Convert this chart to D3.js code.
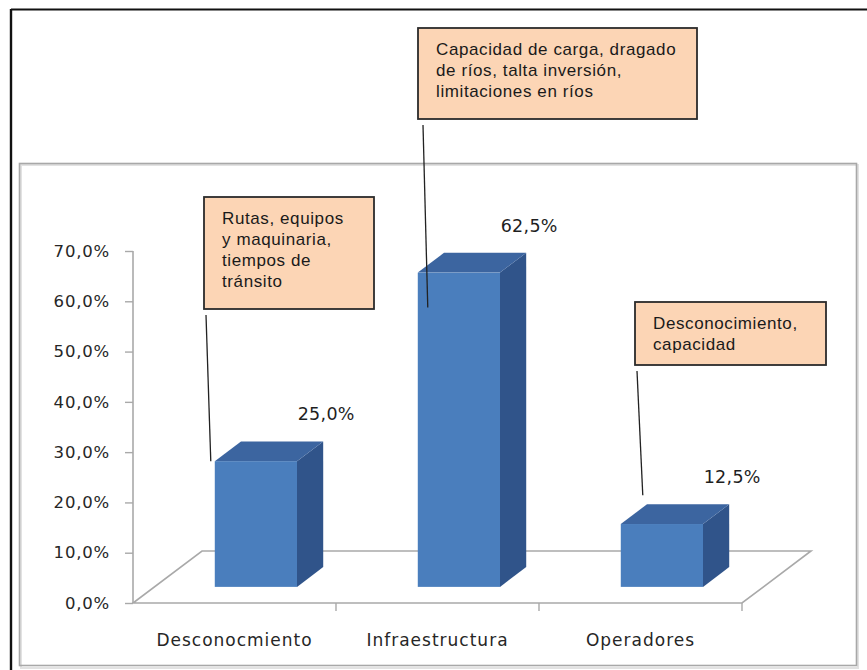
<!DOCTYPE html>
<html>
<head>
<meta charset="utf-8">
<script src="https://cdn.jsdelivr.net/npm/d3@7"></script>
<style>
  html, body { margin: 0; padding: 0; background: #fff; }
  svg { display: block; }
</style>
</head>
<body>
<svg id="chart" width="867" height="670"></svg>
<script>
// Categories, values and their printed labels
const categories = ["Desconocmiento", "Infraestructura", "Operadores"];
const values = [25.0, 62.5, 12.5];
const valueLabels = ["25,0%", "62,5%", "12,5%"];
const yTicks = [0, 10, 20, 30, 40, 50, 60, 70];

// Callout notes, one per category (lines of text)
const notes = [
  ["Rutas, equipos", "y maquinaria,", "tiempos de", "tránsito"],
  ["Capacidad de carga, dragado", "de ríos, talta inversión,", "limitaciones en ríos"],
  ["Desconocimiento,", "capacidad"]
];

const svg = d3.select("#chart");
const locale = d3.formatLocale({ decimal: ",", thousands: ".", grouping: [3], currency: ["", ""] });
const fmt = locale.format(".1f");

// Frame: black outer border and grey plot-area box
svg.append("line").attr("x1", 11).attr("y1", 9.5).attr("x2", 867).attr("y2", 9.5)
  .attr("stroke", "#111").attr("stroke-width", 2.2);
svg.append("line").attr("x1", 11).attr("y1", 9).attr("x2", 11).attr("y2", 670)
  .attr("stroke", "#111").attr("stroke-width", 2.4);
svg.append("rect").attr("x", 21).attr("y", 165).attr("width", 837).attr("height", 503)
  .attr("fill", "none").attr("stroke", "#e2e2e2").attr("stroke-width", 2);
svg.append("rect").attr("x", 19.5).attr("y", 163.5).attr("width", 837).attr("height", 502)
  .attr("fill", "none").attr("stroke", "#a8a8a8").attr("stroke-width", 1.6);

// Scales: front edge of the floor carries the category axis
const x = d3.scaleBand().domain(categories).range([133, 742]).paddingInner(0).paddingOuter(0);
const y = d3.scaleLinear().domain([0, 70]).range([603, 251]);

// Oblique depth of the floor, and where the bars sit inside it
const depth = { dx: 69, dy: -52 };
const barFront = 0.31, barBack = 0.69;
const barWidthRatio = 0.405;

const gridColor = "#a9a9a9";
const labelFont = "'DejaVu Sans', Verdana, sans-serif";

// Floor outline
const x0 = x.range()[0], x1 = x.range()[1], y0 = y(0);
const floorPts = [[x0, y0], [x1, y0], [x1 + depth.dx, y0 + depth.dy], [x0 + depth.dx, y0 + depth.dy]];
svg.append("path")
  .attr("d", d3.line()(floorPts) + "Z")
  .attr("fill", "#fff").attr("stroke", gridColor).attr("stroke-width", 1.6);

// Value axis
const yAxisG = svg.append("g").attr("transform", `translate(${x0},0)`);
yAxisG.call(d3.axisLeft(y).tickValues(yTicks).tickSize(8).tickPadding(15)
  .tickFormat(d => fmt(d) + "%"));
yAxisG.select(".domain").attr("stroke", gridColor).attr("stroke-width", 1.6)
  .attr("d", `M0,${y(70)}V${y(0)}`);
yAxisG.selectAll(".tick line").attr("stroke", gridColor).attr("stroke-width", 1.4);
yAxisG.selectAll(".tick text")
  .attr("fill", "#262626")
  .style("font-family", labelFont)
  .style("font-size", "16.5px")
  .style("letter-spacing", "0.8px");

// Category axis along the front floor edge
const xAxisG = svg.append("g").attr("transform", `translate(0,${y0})`);
xAxisG.call(d3.axisBottom(x).tickSize(0).tickPadding(31));
xAxisG.select(".domain").remove();
xAxisG.selectAll(".tick text")
  .attr("fill", "#262626")
  .style("font-family", labelFont)
  .style("font-size", "17px")
  .style("letter-spacing", "1px");
// Category separators hanging below the front edge
xAxisG.selectAll("line.sep")
  .data(categories.map(c => x(c) + x.bandwidth()))
  .join("line").attr("class", "sep")
  .attr("x1", d => d).attr("x2", d => d).attr("y1", 0).attr("y2", 8)
  .attr("stroke", gridColor).attr("stroke-width", 1.4);

// 3D bars
const bw = x.bandwidth() * barWidthRatio;
const fdx = depth.dx * barFront, fdy = depth.dy * barFront;
const ddx = depth.dx * (barBack - barFront), ddy = depth.dy * (barBack - barFront);

const bars = categories.map((c, i) => {
  const left = x(c) + fdx + (x.bandwidth() - bw) / 2;
  const right = left + bw;
  const top = y(values[i]) + fdy;
  const bottom = y(0) + fdy;
  return { c, v: values[i], label: valueLabels[i], left, right, top, bottom };
});

const barG = svg.append("g");
const line = d3.line();
bars.forEach(b => {
  // side face
  barG.append("path")
    .attr("d", line([[b.right, b.top], [b.right + ddx, b.top + ddy], [b.right + ddx, b.bottom + ddy], [b.right, b.bottom]]) + "Z")
    .attr("fill", "#30548a");
  // top face
  barG.append("path")
    .attr("d", line([[b.left, b.top], [b.right, b.top], [b.right + ddx, b.top + ddy], [b.left + ddx, b.top + ddy]]) + "Z")
    .attr("fill", "#3c65a0");
  // front face
  barG.append("rect")
    .attr("x", b.left).attr("y", b.top).attr("width", bw).attr("height", b.bottom - b.top)
    .attr("fill", "#4a7ebd");
});

// Value labels above each bar
svg.append("g").selectAll("text")
  .data(bars)
  .join("text")
  .attr("x", d => d.right + ddx + 3)
  .attr("y", d => d.top + ddy - 27)
  .attr("text-anchor", "middle")
  .attr("dominant-baseline", "central")
  .attr("fill", "#1f1f1f")
  .style("font-family", labelFont)
  .style("font-size", "17.5px")
  .style("letter-spacing", "0.3px")
  .text(d => d.label);

// Callout boxes with leader lines to their bars
const noteBoxes = [
  { x: 204, y: 197, w: 170, h: 112, from: [2, 6], to: b => [b.left - 4, b.top] },
  { x: 418, y: 28, w: 279, h: 91, from: [5, 6], to: b => [b.left + 10, b.top + 35] },
  { x: 635, y: 302, w: 191, h: 63, from: [2, 6], to: b => [b.left + 22, b.top + ddy - 9] }
];

const noteG = svg.append("g");
noteBoxes.forEach((nb, i) => {
  const end = nb.to(bars[i]);
  noteG.append("line")
    .attr("x1", nb.x + nb.from[0]).attr("y1", nb.y + nb.h + nb.from[1])
    .attr("x2", end[0]).attr("y2", end[1])
    .attr("stroke", "#222").attr("stroke-width", 1.3);
  noteG.append("rect")
    .attr("x", nb.x).attr("y", nb.y).attr("width", nb.w).attr("height", nb.h)
    .attr("fill", "#fcd5b5").attr("stroke", "#2b2b2b").attr("stroke-width", 1.8);
  const t = noteG.append("text")
    .attr("fill", "#1a1a1a")
    .style("font-family", "'Liberation Sans', Arial, sans-serif")
    .style("font-size", "17px")
    .style("letter-spacing", "0.6px");
  notes[i].forEach((ln, k) => {
    t.append("tspan").attr("x", nb.x + 18).attr("y", nb.y + 27 + k * 21).text(ln);
  });
});
</script>
</body>
</html>
